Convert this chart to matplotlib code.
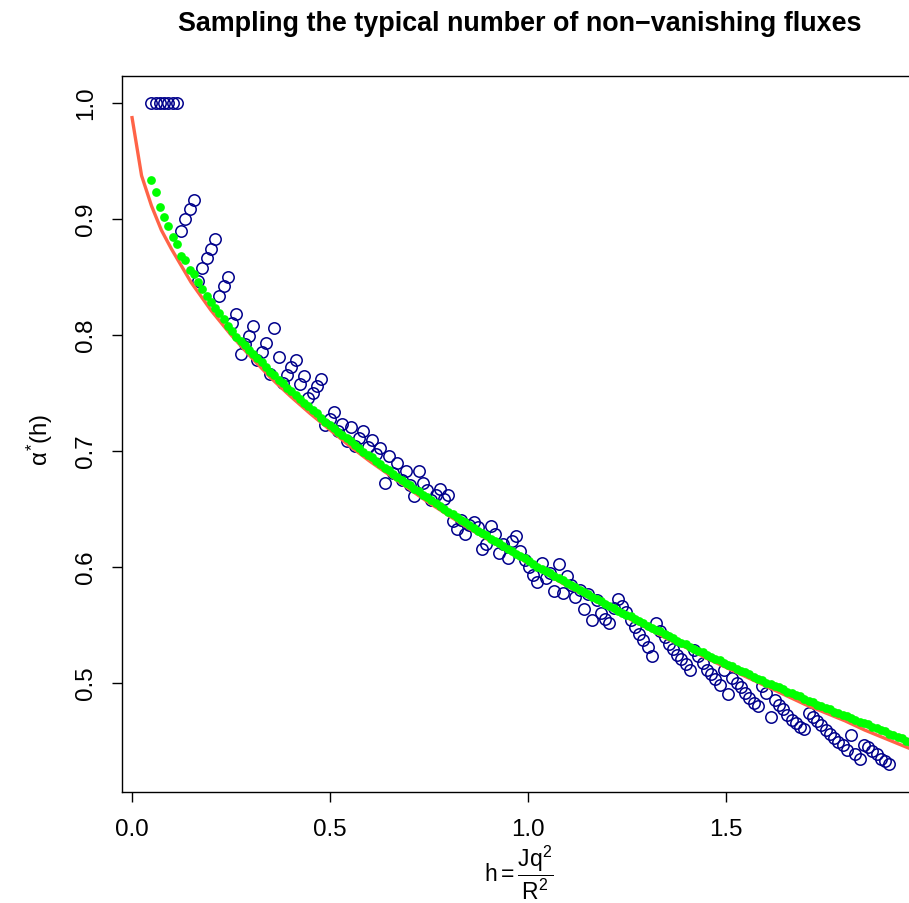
import numpy as np
import matplotlib
matplotlib.use("Agg")
import matplotlib.pyplot as plt

plt.rcParams['font.family'] = ['Liberation Sans', 'DejaVu Sans']
plt.rcParams['mathtext.fontset'] = 'custom'
plt.rcParams['mathtext.rm'] = 'Liberation Sans'
plt.rcParams['mathtext.it'] = 'Liberation Sans'
plt.rcParams['mathtext.bf'] = 'Liberation Sans:bold'

# ---------------- data ----------------
h_step = 0.0107
h_start = 0.05

# sampled alpha (open navy circles)
alpha_sampled = [
    1.000, 1.000, 1.000, 1.000, 1.000, 1.000, 1.000,
    0.889, 0.900, 0.908, 0.916,
    0.846, 0.857, 0.866, 0.874, 0.882,
    0.833, 0.842, 0.850,
    0.810, 0.818,
    0.783, 0.792, 0.799, 0.807,
    0.778, 0.785, 0.793,
    0.766, 0.806, 0.781,
    0.758, 0.765, 0.772, 0.778,
    0.757, 0.764,
    0.745, 0.750, 0.756, 0.762,
    0.722, 0.727, 0.733, 0.717, 0.723, 0.708, 0.720, 0.704, 0.711, 0.717,
    0.703, 0.709, 0.697, 0.702, 0.672, 0.695, 0.681, 0.689, 0.675, 0.682,
    0.670, 0.661, 0.682, 0.672, 0.666, 0.657, 0.662, 0.667, 0.658, 0.662,
    0.639, 0.632, 0.640, 0.628, 0.636, 0.638, 0.634, 0.615, 0.619, 0.635,
    0.628, 0.612, 0.619, 0.607, 0.622, 0.626, 0.613, 0.606, 0.600, 0.593,
    0.587, 0.603, 0.590, 0.594, 0.579, 0.602, 0.577, 0.592, 0.584, 0.574,
    0.580, 0.563, 0.576, 0.554, 0.571, 0.560, 0.555, 0.551, 0.564, 0.572,
    0.566, 0.561, 0.554, 0.548, 0.542, 0.537, 0.531, 0.523, 0.551, 0.544,
    0.539, 0.533, 0.529, 0.524, 0.520, 0.516, 0.511, 0.528, 0.523, 0.517,
    0.511, 0.507, 0.503, 0.498, 0.511, 0.490, 0.504, 0.500, 0.496, 0.491,
    0.487, 0.482, 0.480, 0.497, 0.491, 0.470, 0.485, 0.481, 0.477, 0.472,
    0.468, 0.465, 0.462, 0.460, 0.474, 0.470, 0.467, 0.463, 0.459, 0.456,
    0.452, 0.449, 0.446, 0.442, 0.455, 0.438, 0.434, 0.446, 0.444, 0.441,
    0.438, 0.434, 0.432, 0.430,
]

# typical alpha (filled green dots)
alpha_typical = [
    0.933, 0.923, 0.910, 0.901, 0.894, 0.884, 0.878, 0.868, 0.864, 0.856,
    0.852, 0.845, 0.839, 0.833, 0.828, 0.823, 0.819, 0.813, 0.807, 0.803,
    0.798, 0.794, 0.791, 0.787, 0.783, 0.780, 0.776, 0.772, 0.768, 0.765,
    0.761, 0.758, 0.754, 0.751, 0.748, 0.744, 0.741, 0.738, 0.735, 0.732,
    0.728, 0.725, 0.722, 0.719, 0.716, 0.713, 0.711, 0.708, 0.705, 0.702,
    0.699, 0.696, 0.694, 0.691, 0.688, 0.685, 0.683, 0.680, 0.677, 0.675,
    0.672, 0.670, 0.667, 0.665, 0.662, 0.660, 0.657, 0.655, 0.652, 0.650,
    0.647, 0.645, 0.643, 0.640, 0.638, 0.636, 0.633, 0.631, 0.629, 0.627,
    0.624, 0.622, 0.620, 0.618, 0.615, 0.613, 0.611, 0.609, 0.607, 0.605,
    0.602, 0.600, 0.598, 0.596, 0.594, 0.592, 0.590, 0.588, 0.586, 0.584,
    0.582, 0.580, 0.578, 0.576, 0.574, 0.572, 0.570, 0.568, 0.566, 0.564,
    0.562, 0.560, 0.558, 0.557, 0.555, 0.553, 0.551, 0.549, 0.547, 0.545,
    0.544, 0.542, 0.540, 0.538, 0.536, 0.534, 0.533, 0.531, 0.529, 0.527,
    0.526, 0.524, 0.522, 0.520, 0.519, 0.517, 0.515, 0.514, 0.512, 0.510,
    0.509, 0.507, 0.505, 0.503, 0.502, 0.500, 0.499, 0.497, 0.496, 0.494,
    0.492, 0.491, 0.489, 0.488, 0.486, 0.484, 0.483, 0.481, 0.480, 0.478,
    0.477, 0.475, 0.474, 0.472, 0.471, 0.469, 0.468, 0.466, 0.465, 0.464,
    0.462, 0.461, 0.459, 0.458, 0.456, 0.455, 0.453, 0.452, 0.450, 0.449,
    0.447,
]

# theoretical curve (red line)
h_theory = [0.001, 0.025, 0.05, 0.075, 0.10, 0.15, 0.20, 0.25, 0.30, 0.35,
            0.40, 0.45, 0.50, 0.55, 0.60, 0.65, 0.70, 0.75, 0.80, 0.85,
            0.90, 0.95, 1.00, 1.05, 1.10, 1.15, 1.20, 1.25, 1.30, 1.35,
            1.40, 1.45, 1.50, 1.55, 1.60, 1.65, 1.70, 1.75, 1.80, 1.85,
            1.90, 1.95, 2.00]
alpha_theory = [0.987, 0.937, 0.911, 0.890, 0.874, 0.845, 0.821, 0.800, 0.781, 0.763,
                0.747, 0.732, 0.718, 0.704, 0.691, 0.679, 0.667, 0.655, 0.644, 0.633,
                0.623, 0.613, 0.603, 0.593, 0.583, 0.574, 0.565, 0.556, 0.547, 0.538,
                0.530, 0.521, 0.513, 0.505, 0.497, 0.489, 0.481, 0.474, 0.467, 0.459,
                0.452, 0.445, 0.438]

x_ticks = [0.0, 0.5, 1.0, 1.5]
x_tick_labels = ["0.0", "0.5", "1.0", "1.5"]
y_ticks = [0.5, 0.6, 0.7, 0.8, 0.9, 1.0]
y_tick_labels = ["0.5", "0.6", "0.7", "0.8", "0.9", "1.0"]

h_sampled = h_start + h_step * np.arange(len(alpha_sampled))
h_typical = h_start + h_step * np.arange(len(alpha_typical))

# ---------------- figure ----------------
W, H = 909, 904
fig = plt.figure(figsize=(W / 100, H / 100), dpi=100)
left, right, top, bottom = 122, 918, 77, 793
ax = fig.add_axes([left / W, 1 - bottom / H, (right - left) / W, (bottom - top) / H])

ax.plot(h_sampled, alpha_sampled, linestyle='none', marker='o', markersize=8.2,
        markerfacecolor='none', markeredgecolor='#00008B', markeredgewidth=1.1, zorder=2)
ax.plot(h_theory, alpha_theory, color='#FF6347', linewidth=2.4, zorder=3)
ax.plot(h_typical, alpha_typical, linestyle='none', marker='o', markersize=6.3,
        markerfacecolor='#00FF00', markeredgecolor='none', zorder=4)

ax.set_xlim(-0.0244, 1.9844)
ax.set_ylim(0.4056, 1.0229)

ax.set_xticks(x_ticks)
ax.set_xticklabels(x_tick_labels)
ax.set_yticks(y_ticks)
ax.set_yticklabels(y_tick_labels, rotation=90, va='center')
ax.tick_params(axis='both', direction='out', length=7, width=1, labelsize=17.4, colors='black')
ax.tick_params(axis='x', pad=12)
ax.tick_params(axis='y', pad=11)
for sp in ax.spines.values():
    sp.set_linewidth(1.0)
    sp.set_color('black')

ax.set_title("Sampling the typical number of non\u2212vanishing fluxes",
             fontsize=19.4, fontweight='bold', pad=33)

fig.text(519 / W, 1 - 873 / H, r'$\mathrm{h}=\dfrac{\mathrm{Jq}^2}{\mathrm{R}^2}$',
         ha='center', va='center', fontsize=16.5)
fig.text(40 / W, 1 - 440 / H, r'$\alpha^{*}(\mathrm{h})$', rotation=90,
         ha='center', va='center', fontsize=17.4)

fig.savefig("out.png", dpi=100)
